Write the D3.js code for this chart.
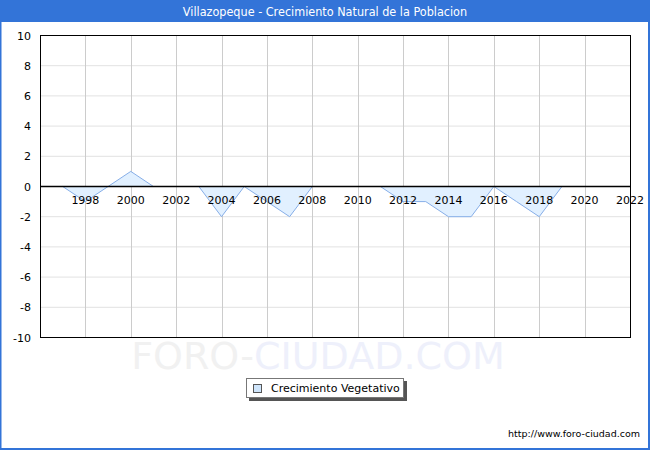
<!DOCTYPE html>
<html><head><meta charset="utf-8">
<script src="https://cdn.jsdelivr.net/npm/d3@7"></script>
<style>body{margin:0;background:#fff}svg{display:block}</style>
</head><body>
<svg id="c" width="650" height="450"></svg>
<script>
const title = "Villazopeque - Crecimiento Natural de la Poblacion";
const seriesName = "Crecimiento Vegetativo";
const years =  [1997,1998,1999,2000,2001,2002,2003,2004,2005,2006,2007,2008,2009,2010,2011,2012,2013,2014,2015,2016,2017,2018,2019];
const values = [0,   -1,   0,   1,   0,   0,   0,  -2,   0,  -1,  -2,   0,   0,   0,   0,  -1,  -1,  -2,  -2,   0,  -1,  -2,   0];
const xTicks = [1998,2000,2002,2004,2006,2008,2010,2012,2014,2016,2018,2020,2022];
const yTicks = [-10,-8,-6,-4,-2,0,2,4,6,8,10];

const svg = d3.select("#c");
const W = 650, H = 450;
const m = {l:40, r:630, t:35.5, b:337.5};
const x = d3.scaleLinear().domain([1996,2022]).range([m.l, m.r]);
const y = d3.scaleLinear().domain([-10,10]).range([m.b, m.t]);
const font = "DejaVu Sans, Verdana, sans-serif";

// frame
svg.append("rect").attr("x",0.5).attr("y",0.5).attr("width",W-1.5).attr("height",H-1.5)
  .attr("fill","#fff").attr("stroke","#3374d8").attr("stroke-width",2);
svg.append("rect").attr("x",0).attr("y",0).attr("width",W).attr("height",22).attr("fill","#3374d8");
svg.append("text").attr("x",W/2).attr("y",16).attr("text-anchor","middle")
  .attr("fill","#fff").attr("font-family","DejaVu Sans Condensed, DejaVu Sans, sans-serif").attr("font-size",12.5).text(title);

// watermark
const wm = svg.append("text").attr("x",318).attr("y",369).attr("text-anchor","middle")
  .attr("font-family","DejaVu Sans, Verdana, sans-serif").attr("font-size",38);
wm.append("tspan").attr("fill","#f1f1f1").text("FORO-");
wm.append("tspan").attr("fill","#eef0fb").text("CIUDAD.COM");

// grid
const g = svg.append("g");
g.selectAll(".hg").data(yTicks).join("line")
  .attr("x1",m.l).attr("x2",m.r).attr("y1",d=>y(d)).attr("y2",d=>y(d))
  .attr("stroke","#e2e2e2").attr("stroke-width",1);
g.selectAll(".vg").data(xTicks.filter(d=>d<2022)).join("line")
  .attr("y1",m.t).attr("y2",m.b).attr("x1",d=>Math.round(x(d))+0.5).attr("x2",d=>Math.round(x(d))+0.5)
  .attr("stroke","#cccccc").attr("stroke-width",1);

// area
const area = d3.area().x((d,i)=>x(years[i])).y0(y(0)).y1(d=>y(d));
const line = d3.line().x((d,i)=>x(years[i])).y(d=>y(d));
svg.append("path").datum(values).attr("d",area).attr("fill","#e1f0ff");
svg.append("path").datum(values).attr("d",line).attr("fill","none").attr("stroke","#86aee8").attr("stroke-width",1);

// zero line
svg.append("line").attr("x1",m.l).attr("x2",m.r).attr("y1",y(0)).attr("y2",y(0))
  .attr("stroke","#000").attr("stroke-width",1.3);

// plot border
svg.append("rect").attr("x",m.l+0.5).attr("y",m.t).attr("width",m.r-m.l).attr("height",m.b-m.t)
  .attr("fill","none").attr("stroke","#000").attr("stroke-width",1);

// y labels
svg.selectAll(".yl").data(yTicks).join("text")
  .attr("x",31).attr("y",d=>y(d)+4).attr("text-anchor","end")
  .attr("font-family",font).attr("font-size",11).attr("fill","#000").text(d=>d);
// x labels
svg.selectAll(".xl").data(xTicks).join("text")
  .attr("x",d=>x(d)).attr("y",y(0)+17).attr("text-anchor","middle")
  .attr("font-family",font).attr("font-size",11).attr("fill","#000").text(d=>d);

// legend
const lg = svg.append("g");
lg.append("rect").attr("x",249).attr("y",381).attr("width",158).attr("height",20).attr("fill","#555");
lg.append("rect").attr("x",246.5).attr("y",378.5).attr("width",157).attr("height",19).attr("fill","#fff").attr("stroke","#777");
lg.append("rect").attr("x",253.5).attr("y",384.5).attr("width",8).attr("height",8).attr("fill","#cfe5fb").attr("stroke","#555");
lg.append("text").attr("x",271).attr("y",392).attr("font-family",font).attr("font-size",11).attr("fill","#000").text(seriesName);

// footer
svg.append("text").attr("x",640).attr("y",437).attr("text-anchor","end")
  .attr("font-family",font).attr("font-size",9.5).attr("fill","#000").text("http://www.foro-ciudad.com");
</script>
</body></html>
